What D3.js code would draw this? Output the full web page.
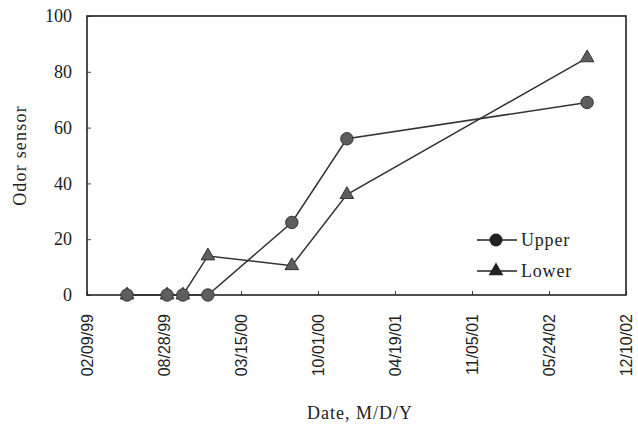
<!DOCTYPE html>
<html><head>
<meta charset="utf-8">
<script src="https://cdn.jsdelivr.net/npm/d3@7"></script>
<style>
  body { margin: 0; background: #fff; }
  svg text { fill: #222; }
</style>
</head>
<body>
<svg id="plot" width="638" height="426"></svg>
<script>
// data
const dates  = ["05/24/99", "09/05/99", "10/16/99", "12/20/99", "07/25/00", "12/15/00", "08/31/02"];
const upper  = [0, 0, 0, 0, 26, 56, 69];
const lower  = [0, 0, 0, 14, 10.5, 36, 85];
const xTickLabels = ["02/09/99", "08/28/99", "03/15/00", "10/01/00", "04/19/01", "11/05/01", "05/24/02", "12/10/02"];
const yTicks = [0, 20, 40, 60, 80, 100];

const svg = d3.select("svg#plot");
const margin = {top: 16, right: 12, bottom: 131, left: 87};
const width = 638, height = 426;
const chartWidth = width - margin.left - margin.right;
const chartHeight = height - margin.top - margin.bottom;

const parse = d3.timeParse("%m/%d/%y");
const tickDates = xTickLabels.map(parse);

const x = d3.scaleTime().domain([tickDates[0], tickDates[tickDates.length-1]]).range([0, chartWidth]);
const y = d3.scaleLinear().domain([0, 100]).range([chartHeight, 0]);

const chart = svg.append("g")
  .attr("transform", "translate(" + margin.left + "," + margin.top + ")");

// x axis, ticks pointing in
const xAxis = d3.axisBottom(x).tickValues(tickDates).tickSizeInner(-4).tickSizeOuter(0)
  .tickFormat(d => xTickLabels[tickDates.findIndex(t => +t === +d)]);
const gx = chart.append("g").attr("transform", "translate(0," + chartHeight + ")").call(xAxis);
gx.select(".domain").remove();
gx.selectAll(".tick line").attr("stroke", "#444");
gx.selectAll(".tick text")
  .attr("font-family", "Liberation Sans, Arial, sans-serif")
  .attr("font-size", 16)
  .attr("text-anchor", "end")
  .attr("transform", "rotate(-90)")
  .attr("x", -19).attr("y", 0).attr("dy", "0.35em");

// y axis
const yAxis = d3.axisLeft(y).tickValues(yTicks).tickSizeInner(-4).tickSizeOuter(0).tickPadding(15);
const gy = chart.append("g").call(yAxis);
gy.select(".domain").remove();
gy.selectAll(".tick line").attr("stroke", "#444");
gy.selectAll(".tick text")
  .attr("font-family", "Liberation Serif, Times New Roman, serif")
  .attr("font-size", 18);

// frame
chart.append("rect")
  .attr("width", chartWidth).attr("height", chartHeight)
  .attr("fill", "none").attr("stroke", "#222").attr("stroke-width", 1.6);

const line = d3.line().x(d => x(parse(d[0]))).y(d => y(d[1]));
const upperPts = dates.map((d, i) => [d, upper[i]]);
const lowerPts = dates.map((d, i) => [d, lower[i]]);

const tri = d3.symbol().type(d3.symbolTriangle).size(80);

// lower series (drawn first, sits under circles at 0)
chart.append("path").datum(lowerPts).attr("d", line)
  .attr("fill", "none").attr("stroke", "#333").attr("stroke-width", 1.5);
chart.selectAll(".tri").data(lowerPts).join("path").attr("class", "tri")
  .attr("d", tri)
  .attr("transform", d => "translate(" + x(parse(d[0])) + "," + y(d[1]) + ")")
  .attr("fill", "#5e5e5e").attr("stroke", "#333").attr("stroke-width", 1);

// upper series
chart.append("path").datum(upperPts).attr("d", line)
  .attr("fill", "none").attr("stroke", "#333").attr("stroke-width", 1.5);
chart.selectAll(".dot").data(upperPts).join("circle").attr("class", "dot")
  .attr("cx", d => x(parse(d[0]))).attr("cy", d => y(d[1])).attr("r", 6.2)
  .attr("fill", "#5e5e5e").attr("stroke", "#333").attr("stroke-width", 1);

// legend
const legend = svg.append("g").attr("transform", "translate(477,240)");
const items = [{name: "Upper", sym: "circle"}, {name: "Lower", sym: "triangle"}];
items.forEach((it, i) => {
  const g = legend.append("g").attr("transform", "translate(0," + (i * 31) + ")");
  g.append("line").attr("x1", 0).attr("x2", 40).attr("stroke", "#222").attr("stroke-width", 1.5);
  if (it.sym === "circle") {
    g.append("circle").attr("cx", 19).attr("r", 6.5).attr("fill", "#222");
  } else {
    g.append("path").attr("d", d3.symbol().type(d3.symbolTriangle).size(95)())
      .attr("transform", "translate(19,0)").attr("fill", "#222");
  }
  g.append("text").attr("x", 44).attr("dy", "0.35em")
    .attr("font-family", "Liberation Serif, Times New Roman, serif")
    .attr("font-size", 18).attr("letter-spacing", 0.8).text(it.name);
});

// axis titles
svg.append("text")
  .attr("transform", "translate(26," + (margin.top + chartHeight / 2) + ") rotate(-90)")
  .attr("text-anchor", "middle")
  .attr("font-family", "Liberation Serif, Times New Roman, serif")
  .attr("font-size", 18).attr("letter-spacing", 1.2).text("Odor sensor");

svg.append("text")
  .attr("x", 360).attr("y", 419)
  .attr("text-anchor", "middle")
  .attr("font-family", "Liberation Serif, Times New Roman, serif")
  .attr("font-size", 18).attr("letter-spacing", 1).text("Date, M/D/Y");
</script>
</body>
</html>
